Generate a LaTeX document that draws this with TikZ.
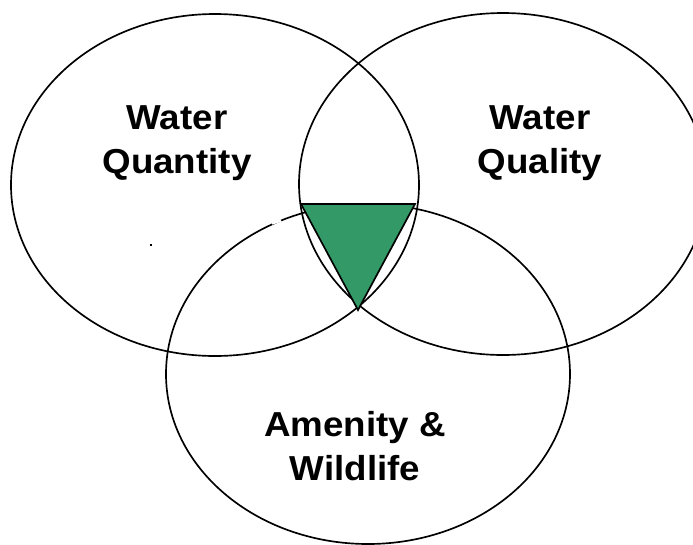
\documentclass[tikz,border=0pt]{standalone}
\usepackage{fontspec}
\setmainfont{Liberation Sans}
\usetikzlibrary{positioning}
\definecolor{VennGreen}{RGB}{51,153,102}

\begin{document}
\begin{tikzpicture}[x=0.75pt,y=-0.75pt,
  ring/.style={line width=1.25pt,black},
  setlabel/.style={font=\bfseries\fontsize{26}{33}\selectfont,align=center,xscale=1.06,inner sep=0pt}]
\clip (0,0) rectangle (693,544);
% three circles
\draw[ring] (215,185) ellipse [x radius=204,y radius=171];
\draw[ring] (503,184) ellipse [x radius=204,y radius=171];
\draw[ring] (368,374) ellipse [x radius=202,y radius=170];
\draw[white,line width=1.8pt] (272,223.5)--(281,220.5);
% common part
\coordinate (tl) at (301,204);\coordinate (tr) at (415,204);\coordinate (tb) at (358,310);
\filldraw[VennGreen,draw=black,line width=1.25pt] (tl)--(tr)--(tb)--cycle;
\fill[black] (150,244) rectangle (152,246);
\node[setlabel] (qty) at (177,143){Water\\Quantity};
\node[setlabel] (qly) at (540,143){Water\\Quality};
\node[setlabel] (wild) at (355,446){Amenity \&\\Wildlife};
\end{tikzpicture}
\end{document}
